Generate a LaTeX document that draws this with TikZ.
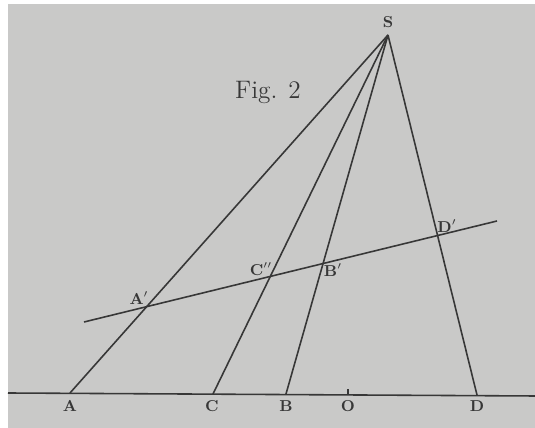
\documentclass[tikz,border=0pt]{standalone}
\usepackage{tikz}
\usetikzlibrary{arrows}
\definecolor{paper}{RGB}{201,201,200}
\definecolor{ink}{RGB}{55,55,55}

\begin{document}
\begin{tikzpicture}[x=0.02cm,y=-0.02cm,line width=0.9pt]
\tikzset{pt/.style={font=\small\bfseries,text=ink,inner sep=1pt}}
\useasboundingbox (0,0) rectangle (535,428);
\fill[white] (0,0) rectangle (535,428);
\fill[paper] (8,4) rectangle (535,428);

\coordinate (S) at (388,35);
\coordinate (A) at (70,393);
\coordinate (C) at (213,394);
\coordinate (B) at (286,394);
\coordinate (O) at (348,394);
\coordinate (D) at (477,395);
\coordinate (L1) at (8,393);
\coordinate (L2) at (535,396);
\coordinate (T1) at (84,322);
\coordinate (T2) at (497,221);
\coordinate (Ap) at (intersection of S--A and T1--T2);
\coordinate (Cpp) at (intersection of S--C and T1--T2);
\coordinate (Bp) at (intersection of S--B and T1--T2);
\coordinate (Dp) at (intersection of S--D and T1--T2);

% The base line
\draw[ink] (L1) -- (L2);
\draw[ink,line width=0.6pt] (O) -- ++(0,-5);

% The rays from S
\draw[ink] (S) -- (A);
\draw[ink] (S) -- (C);
\draw[ink] (S) -- (B);
\draw[ink] (S) -- (D);

% The transversal
\draw[ink] (T1) -- (T2);

% The labels
\node[pt] (lS) at (388,22) {S};
\node[pt] (lA) at (70,406) {A};
\node[pt] (lC) at (212,406) {C};
\node[pt] (lB) at (286,406) {B};
\node[pt] (lO) at (348,406) {O};
\node[pt] (lD) at (477,406) {D};
\node[pt] (lAp) at (139,298) {A$'$};
\node[pt] (lCpp) at (261,269) {C$''$};
\node[pt] (lBp) at (333,270) {B$'$};
\node[pt] (lDp) at (447,226) {D$'$};
\node[font=\Large,text=ink] (fig) at (268,92) {Fig. 2};
\end{tikzpicture}
\end{document}
